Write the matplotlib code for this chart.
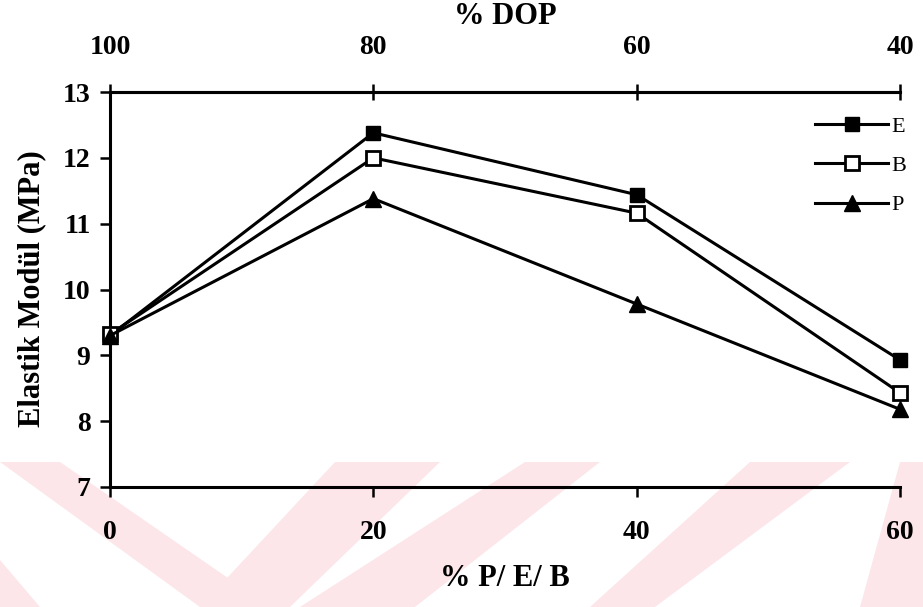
import matplotlib
matplotlib.use("Agg")
import matplotlib.pyplot as plt
from matplotlib.patches import Polygon

# data
pct_peb = [0, 20, 40, 60]
dop_labels = ["100", "80", "60", "40"]
mod_E = [9.30, 12.38, 11.44, 8.93]
mod_B = [9.32, 12.00, 11.16, 8.43]
mod_P = [9.30, 11.38, 9.78, 8.18]
y_ticks = [7, 8, 9, 10, 11, 12, 13]

W, H = 923, 607
plt.rcParams["font.family"] = ["Liberation Serif", "DejaVu Serif"]

fig = plt.figure(figsize=(W / 100, H / 100), dpi=100)

# faint pink watermark at the bottom (pixel coords -> figure fraction)
stripes = [
    [(0, 462), (60, 462), (270, 607), (200, 607)],
    [(200, 607), (290, 607), (440, 462), (335, 462)],
    [(300, 607), (415, 607), (600, 462), (525, 462)],
    [(590, 607), (655, 607), (850, 462), (750, 462)],
    [(860, 607), (923, 607), (923, 462), (900, 462)],
    [(0, 560), (0, 607), (40, 607)],
]
for st in stripes:
    pts = [(x / W, 1 - y / H) for x, y in st]
    fig.patches.append(Polygon(pts, closed=True, transform=fig.transFigure,
                               facecolor="#fde6ea", edgecolor="none", zorder=-5))

ax = fig.add_axes([110 / W, 1 - 487 / H, 790 / W, 395 / H])
ax.patch.set_alpha(0)

kw = dict(color="black", lw=2.2, clip_on=False, zorder=3)
ax.plot(pct_peb, mod_E, marker="s", ms=10, mfc="black", mec="black", label="E", **kw)
ax.plot(pct_peb, mod_B, marker="s", ms=10, mfc="white", mec="black", mew=2, label="B", **kw)
ax.plot(pct_peb, mod_P, marker="^", ms=11, mfc="black", mec="black", label="P", **kw)

ax.set_xlim(0, 60)
ax.set_ylim(7, 13)
ax.set_xticks(pct_peb)
ax.set_yticks(y_ticks)
ax.spines["right"].set_visible(False)
for s in ["left", "bottom", "top"]:
    ax.spines[s].set_linewidth(2.2)

ax.tick_params(axis="y", direction="out", length=7, width=1.8, pad=7, labelsize=20)
ax.tick_params(axis="x", direction="out", length=7, width=1.8, pad=17, labelsize=20)
for lab in ax.get_xticklabels() + ax.get_yticklabels():
    lab.set_fontweight("bold")

top = ax.secondary_xaxis("top")
top.set_xticks(pct_peb)
top.set_xticklabels(dop_labels, fontweight="bold")
top.tick_params(direction="inout", length=12, width=1.8, pad=17, labelsize=20)
top.spines["top"].set_linewidth(2.2)

fig.text(505 / W, 1 - 17 / H, "% DOP", ha="center", va="center",
         fontsize=22, fontweight="bold")
fig.text(505 / W, 1 - 578 / H, "% P/ E/ B", ha="center", va="center",
         fontsize=22, fontweight="bold")
fig.text(32 / W, 1 - 289 / H, "Elastik Modül (MPa)", ha="center", va="center",
         rotation=90, fontsize=22, fontweight="bold")

ax.legend(loc="upper left", bbox_to_anchor=(815 / W, 1 - 116 / H),
          bbox_transform=fig.transFigure, frameon=False, borderpad=0,
          borderaxespad=0, handlelength=3.3, handletextpad=0.15,
          labelspacing=0.85, fontsize=16)

fig.savefig("out.png", dpi=100)
